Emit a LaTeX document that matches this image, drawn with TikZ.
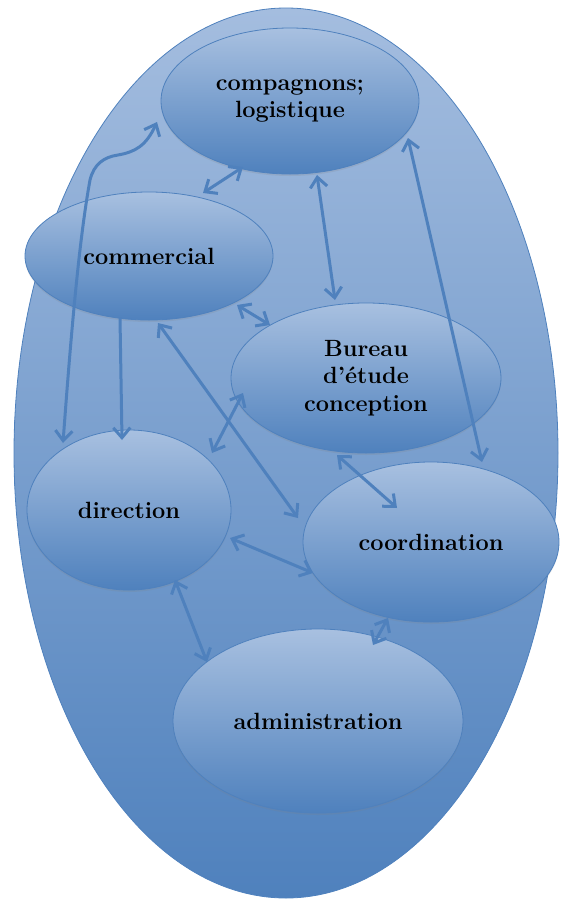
\documentclass[tikz,border=0pt]{standalone}
\usepackage{fontspec}
\usetikzlibrary{arrows.meta,shapes.geometric,calc,shadows}
\definecolor{edge}{RGB}{79,129,189}
\definecolor{lite}{RGB}{168,192,224}
\definecolor{dark}{RGB}{79,129,189}
\definecolor{bgtop}{RGB}{164,189,223}
\definecolor{bgmid}{RGB}{144,173,215}
\definecolor{bgbot}{RGB}{79,129,189}
\begin{document}
\begin{tikzpicture}[x=1pt,y=-1pt,
  unit/.style={ellipse, draw=edge, line width=0.8pt, top color=lite, bottom color=dark,
    inner sep=0pt, align=center,
    drop shadow={opacity=0.18, shadow xshift=0pt, shadow yshift=-2pt},
    font=\fontsize{23.5}{27.5}\selectfont\bfseries},
  tipp/.tip={Straight Barb[length=10pt,width=17pt]},
  link/.style={draw=edge, line width=3pt, tipp-tipp},
  onelink/.style={draw=edge, line width=3pt, -tipp}]
\useasboundingbox (0,0) rectangle (569,900);
% outer ellipse
\shade[top color=bgtop, middle color=bgmid, bottom color=bgbot]
  (286,453) ellipse [x radius=272pt, y radius=445pt];
\draw[edge, line width=0.8pt] (286,453) ellipse [x radius=272pt, y radius=445pt];
% units
\node[unit, minimum width=258pt, minimum height=146pt] (comp) at (290,101) {compagnons;\\logistique};
\node[unit, minimum width=248pt, minimum height=128pt] (comm) at (149,256) {commercial};
\node[unit, minimum width=270pt, minimum height=150pt] (bur) at (366,378) {Bureau\\d’étude\\conception};
\node[unit, minimum width=204pt, minimum height=160pt] (dir) at (129,510) {direction};
\node[unit, minimum width=256pt, minimum height=160pt] (coord) at (431,542) {coordination};
\node[unit, minimum width=290pt, minimum height=184pt] (adm) at (318,721) {administration};
% connectors
\draw[link] ($(comp)+(-47,66)$) -- ($(comm)+(54,-63)$);
\draw[link] ($(comp)+(27,74)$) -- ($(bur)+(-31,-78)$);
\draw[link] ($(comp)+(118,37)$) -- ($(coord)+(51,-80)$);
\draw[link] ($(comm)+(88,49)$) -- ($(bur)+(-96,-53)$);
\draw[onelink] ($(comm)+(-29,62)$) -- ($(dir)+(-7,-70)$);
\coordinate (k1) at (90,180);
\coordinate (k2) at (118,155);
\draw[link] ($(dir)+(-66,-67)$) .. controls (72,320) and (80,235) .. (k1)
  .. controls (94,164) and (104,157) .. (k2)
  .. controls (135,152) and (146,146) .. ($(comp)+(-133,21)$);
\draw[link] ($(comm)+(9,67)$) -- ($(coord)+(-133,-24)$);
\draw[link] ($(bur)+(-123,15)$) -- ($(dir)+(83,-57)$);
\draw[link] ($(bur)+(-29,77)$) -- ($(coord)+(-34,-34)$);
\draw[link] ($(dir)+(101,28)$) -- ($(coord)+(-118,31)$);
\draw[link] ($(dir)+(46,70)$) -- ($(adm)+(-111,-59)$);
\draw[link] ($(coord)+(-43,76)$) -- ($(adm)+(55,-76)$);
\end{tikzpicture}
\end{document}
